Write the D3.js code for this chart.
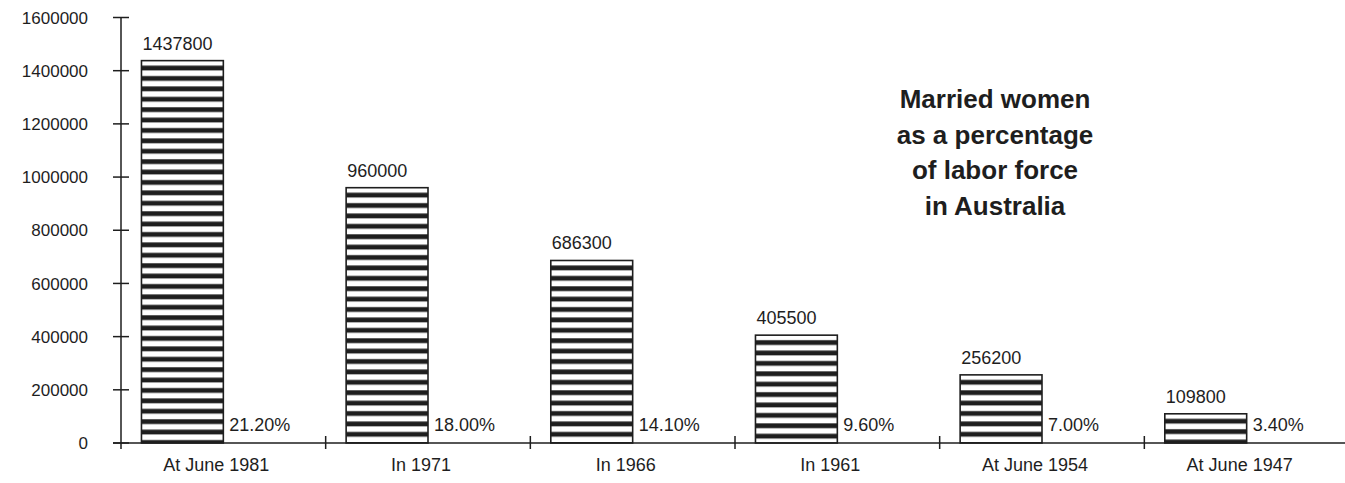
<!DOCTYPE html>
<html>
<head>
<meta charset="utf-8">
<script src="https://cdn.jsdelivr.net/npm/d3@7"></script>
<style>
  html, body { margin: 0; padding: 0; background: #fff; }
  svg { display: block; }
  text { font-family: "Liberation Sans", Arial, Helvetica, sans-serif; fill: #1e1e1e; }
</style>
</head>
<body>
<svg id="chart" width="1345" height="483"></svg>
<script>
// Married women in the Australian labour force
const periods = ["At June 1981", "In 1971", "In 1966", "In 1961", "At June 1954", "At June 1947"];
const marriedWomen = [1437800, 960000, 686300, 405500, 256200, 109800];
const shareOfLabourForce = ["21.20%", "18.00%", "14.10%", "9.60%", "7.00%", "3.40%"];
const yTicks = [0, 200000, 400000, 600000, 800000, 1000000, 1200000, 1400000, 1600000];
const titleLines = ["Married women", "as a percentage", "of labor force", "in Australia"];

const svg = d3.select("#chart");
const ink = "#1e1e1e";

const x = d3.scaleBand().domain(periods).range([121, 1349]).paddingInner(0).paddingOuter(0);
const y = d3.scaleLinear().domain([0, 1600000]).range([443, 17.5]);

const step = x.step();
const barOffset = step * 0.1;
const barWidth = step * 0.4;
const stripePeriod = 10.4;

// one horizontal stripe fill per bar, starting from the bar's top edge
const defs = svg.append("defs");
const patterns = defs.selectAll("pattern")
  .data(marriedWomen)
  .join("pattern")
  .attr("id", (d, i) => "stripes-" + i)
  .attr("patternUnits", "userSpaceOnUse")
  .attr("x", 0).attr("y", d => y(d))
  .attr("width", 20).attr("height", stripePeriod);
patterns.append("rect").attr("width", 20).attr("height", stripePeriod).attr("fill", "#fff");
patterns.append("rect").attr("y", 5).attr("width", 20).attr("height", 4.8).attr("fill", ink);

// bars
svg.append("g").selectAll("rect")
  .data(marriedWomen)
  .join("rect")
  .attr("x", (d, i) => x(periods[i]) + barOffset)
  .attr("y", d => y(d))
  .attr("width", barWidth)
  .attr("height", d => y(0) - y(d))
  .attr("fill", (d, i) => "url(#stripes-" + i + ")")
  .attr("stroke", ink)
  .attr("stroke-width", 1.6);

// value above each bar
svg.append("g").selectAll("text")
  .data(marriedWomen)
  .join("text")
  .attr("x", (d, i) => x(periods[i]) + barOffset + 1)
  .attr("y", d => y(d) - 11)
  .attr("font-size", 18)
  .text(d => d3.format("d")(d));

// share of labour force beside each bar
svg.append("g").selectAll("text")
  .data(shareOfLabourForce)
  .join("text")
  .attr("x", (d, i) => x(periods[i]) + barOffset + barWidth + 6)
  .attr("y", y(0) - 12)
  .attr("font-size", 18)
  .text(d => d);

// y axis
const yAxis = svg.append("g");
yAxis.append("line")
  .attr("x1", 121).attr("x2", 121)
  .attr("y1", y(1600000)).attr("y2", y(0) + 6)
  .attr("stroke", ink).attr("stroke-width", 1.5);
yAxis.selectAll("line.tick")
  .data(yTicks)
  .join("line")
  .attr("class", "tick")
  .attr("x1", 113).attr("x2", 129)
  .attr("y1", d => y(d)).attr("y2", d => y(d))
  .attr("stroke", ink).attr("stroke-width", 1.5);
yAxis.selectAll("text")
  .data(yTicks)
  .join("text")
  .attr("x", 88)
  .attr("y", d => y(d))
  .attr("dy", "0.36em")
  .attr("text-anchor", "end")
  .attr("font-size", 17)
  .text(d => d3.format("d")(d));

// x axis with separators between periods
const xAxis = svg.append("g");
xAxis.append("line")
  .attr("x1", 113).attr("x2", 1345)
  .attr("y1", y(0)).attr("y2", y(0))
  .attr("stroke", ink).attr("stroke-width", 1.5);
xAxis.selectAll("line.sep")
  .data(periods.slice(1))
  .join("line")
  .attr("class", "sep")
  .attr("x1", d => x(d)).attr("x2", d => x(d))
  .attr("y1", y(0) - 7).attr("y2", y(0) + 6)
  .attr("stroke", ink).attr("stroke-width", 1.5);
xAxis.selectAll("text")
  .data(periods)
  .join("text")
  .attr("x", d => x(d) + step / 2 - 7)
  .attr("y", 471)
  .attr("text-anchor", "middle")
  .attr("font-size", 18)
  .text(d => d);

// title block
svg.append("g").selectAll("text")
  .data(titleLines)
  .join("text")
  .attr("x", 995)
  .attr("y", (d, i) => 108 + i * 35.5)
  .attr("text-anchor", "middle")
  .attr("font-size", 26)
  .attr("font-weight", "bold")
  .text(d => d);
</script>
</body>
</html>
